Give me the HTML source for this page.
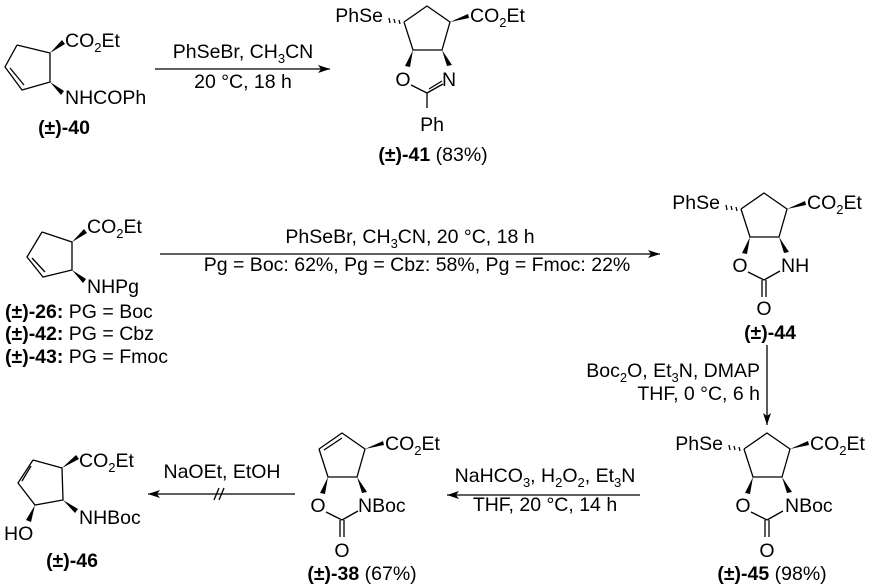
<!DOCTYPE html>
<html><head><meta charset="utf-8"><style>
html,body{margin:0;padding:0;background:#fff;}
svg{display:block;}
text{font-family:"Liberation Sans",Arial,sans-serif;font-size:19.5px;fill:#000;}
.b{font-weight:bold;}
.s{font-size:13px;}
.m{text-anchor:middle;}
line,polyline,path.l{stroke:#000;stroke-width:1.3;fill:none;}
</style></head><body>
<svg width="873" height="588" viewBox="0 0 873 588" xmlns="http://www.w3.org/2000/svg">
<defs>
<marker id="ah" viewBox="0 0 12 8" refX="12" refY="4" markerWidth="13" markerHeight="8" markerUnits="userSpaceOnUse" orient="auto">
<path d="M0,0 L12,4 L0,8 L3,4 Z" fill="#000"/></marker>
<g id="core">
<polyline points="-9,-28 14,-44 37,-28 29,0 0,0 -9,-28"/>
<polygon points="0,0 -8,16 -3,17" fill="#000"/>
<polygon points="29,0 34,16 39,15" fill="#000"/>
<polygon points="37,-28 55,-36 56,-32" fill="#000"/>
<line x1="-14" y1="-30" x2="-13" y2="-26"/>
<line x1="-19" y1="-31" x2="-18" y2="-27"/>
<line x1="-24" y1="-32" x2="-23" y2="-27"/>
</g>
</defs>

<!-- 40 -->
<polyline points="17,45 50,53 50,82 22,90 5,67 17,45"/>
<line x1="10" y1="68" x2="24" y2="85"/>
<polygon points="50,53 62,40 65,44" fill="#000"/>
<polygon points="50,82 61,95 64,91" fill="#000"/>
<text x="65" y="47">CO<tspan class="s" dy="5">2</tspan><tspan dy="-5">Et</tspan></text>
<text x="65" y="104">NHCOPh</text>
<text x="64" y="134" class="b m">(±)-40</text>

<line x1="155" y1="69" x2="330" y2="69" marker-end="url(#ah)"/>
<text x="243" y="58" class="m">PhSeBr, CH<tspan class="s" dy="5">3</tspan><tspan dy="-5">CN</tspan></text>
<text x="243" y="88" class="m">20 °C, 18 h</text>

<!-- 41 -->
<g transform="translate(413,50)">
<use href="#core"/>
<line x1="-2" y1="35" x2="14" y2="43"/>
<line x1="14" y1="43" x2="30" y2="34"/>
<line x1="16" y1="39" x2="29" y2="31"/>
<line x1="14" y1="43" x2="14" y2="58"/>
</g>
<text x="383" y="22" text-anchor="end">PhSe</text>
<text x="470" y="22">CO<tspan class="s" dy="5">2</tspan><tspan dy="-5">Et</tspan></text>
<text x="403" y="86" class="m">O</text>
<text x="449" y="86" class="m">N</text>
<text x="432" y="131" class="m">Ph</text>
<text x="433" y="161" class="m"><tspan class="b">(±)-41</tspan> (83%)</text>

<!-- 26 -->
<polyline points="42,232 72,242 72,270 43,277 27,257 42,232"/>
<line x1="32" y1="258" x2="45" y2="272"/>
<polygon points="72,242 84,229 87,233" fill="#000"/>
<polygon points="72,270 83,283 86,279" fill="#000"/>
<text x="87" y="233">CO<tspan class="s" dy="5">2</tspan><tspan dy="-5">Et</tspan></text>
<text x="87" y="293">NHPg</text>
<text x="5" y="318"><tspan class="b">(±)-26:</tspan> PG = Boc</text>
<text x="5" y="340"><tspan class="b">(±)-42:</tspan> PG = Cbz</text>
<text x="5" y="363"><tspan class="b">(±)-43:</tspan> PG = Fmoc</text>

<line x1="160" y1="254" x2="660" y2="254" marker-end="url(#ah)"/>
<text x="410" y="243" class="m">PhSeBr, CH<tspan class="s" dy="5">3</tspan><tspan dy="-5">CN, 20 °C, 18 h</tspan></text>
<text x="417" y="271" class="m">Pg = Boc: 62%, Pg = Cbz: 58%, Pg = Fmoc: 22%</text>

<!-- 44 -->
<g transform="translate(750,237)">
<use href="#core"/>
<line x1="-2" y1="35" x2="14" y2="43"/>
<line x1="14" y1="43" x2="30" y2="34"/>
<line x1="12" y1="43" x2="12" y2="60"/>
<line x1="16" y1="43" x2="16" y2="60"/>
</g>
<text x="720" y="209" text-anchor="end">PhSe</text>
<text x="807" y="209">CO<tspan class="s" dy="5">2</tspan><tspan dy="-5">Et</tspan></text>
<text x="740" y="272" class="m">O</text>
<text x="781" y="272">NH</text>
<text x="764" y="315" class="m">O</text>
<text x="770" y="339" class="b m">(±)-44</text>

<line x1="767" y1="345" x2="767" y2="425" marker-end="url(#ah)"/>
<text x="760" y="377" text-anchor="end">Boc<tspan class="s" dy="5">2</tspan><tspan dy="-5">O, Et</tspan><tspan class="s" dy="5">3</tspan><tspan dy="-5">N, DMAP</tspan></text>
<text x="760" y="400" text-anchor="end">THF, 0 °C, 6 h</text>

<!-- 45 -->
<g transform="translate(753,477)">
<use href="#core"/>
<line x1="-2" y1="35" x2="14" y2="43"/>
<line x1="14" y1="43" x2="30" y2="34"/>
<line x1="12" y1="43" x2="12" y2="60"/>
<line x1="16" y1="43" x2="16" y2="60"/>
</g>
<text x="723" y="450" text-anchor="end">PhSe</text>
<text x="810" y="450">CO<tspan class="s" dy="5">2</tspan><tspan dy="-5">Et</tspan></text>
<text x="743" y="512" class="m">O</text>
<text x="785" y="512">NBoc</text>
<text x="767" y="557" class="m">O</text>
<text x="772" y="580" class="m"><tspan class="b">(±)-45</tspan> (98%)</text>

<line x1="640" y1="495" x2="447" y2="495" marker-end="url(#ah)"/>
<text x="545" y="482" class="m">NaHCO<tspan class="s" dy="5">3</tspan><tspan dy="-5">, H</tspan><tspan class="s" dy="5">2</tspan><tspan dy="-5">O</tspan><tspan class="s" dy="5">2</tspan><tspan dy="-5">, Et</tspan><tspan class="s" dy="5">3</tspan><tspan dy="-5">N</tspan></text>
<text x="545" y="511" class="m">THF, 20 °C, 14 h</text>

<!-- 38 -->
<g transform="translate(328,477)">
<polyline points="-9,-28 14,-44 37,-28 29,0 0,0 -9,-28"/>
<line x1="-4" y1="-27" x2="14" y2="-39"/>
<polygon points="0,0 -8,16 -3,17" fill="#000"/>
<polygon points="29,0 34,16 39,15" fill="#000"/>
<polygon points="37,-28 55,-36 56,-32" fill="#000"/>
<line x1="-2" y1="35" x2="14" y2="43"/>
<line x1="14" y1="43" x2="30" y2="34"/>
<line x1="12" y1="43" x2="12" y2="60"/>
<line x1="16" y1="43" x2="16" y2="60"/>
</g>
<text x="385" y="450">CO<tspan class="s" dy="5">2</tspan><tspan dy="-5">Et</tspan></text>
<text x="318" y="512" class="m">O</text>
<text x="358" y="512">NBoc</text>
<text x="342" y="557" class="m">O</text>
<text x="362" y="580" class="m"><tspan class="b">(±)-38</tspan> (67%)</text>

<line x1="295" y1="494" x2="148" y2="494" marker-end="url(#ah)"/>
<text x="222" y="478" class="m">NaOEt, EtOH</text>
<line x1="214" y1="500" x2="219" y2="488"/>
<line x1="219" y1="500" x2="224" y2="488"/>

<!-- 46 -->
<polyline points="33,460 62,468 63,500 35,505 18,483 33,460"/>
<line x1="31" y1="466" x2="22" y2="481"/>
<polygon points="35,505 26,520 31,522" fill="#000"/>
<polygon points="62,468 76,455 79,459" fill="#000"/>
<polygon points="63,500 75,513 78,509" fill="#000"/>
<text x="79" y="467">CO<tspan class="s" dy="5">2</tspan><tspan dy="-5">Et</tspan></text>
<text x="79" y="524">NHBoc</text>
<text x="4" y="540">HO</text>
<text x="72" y="567" class="b m">(±)-46</text>
</svg>
</body></html>
